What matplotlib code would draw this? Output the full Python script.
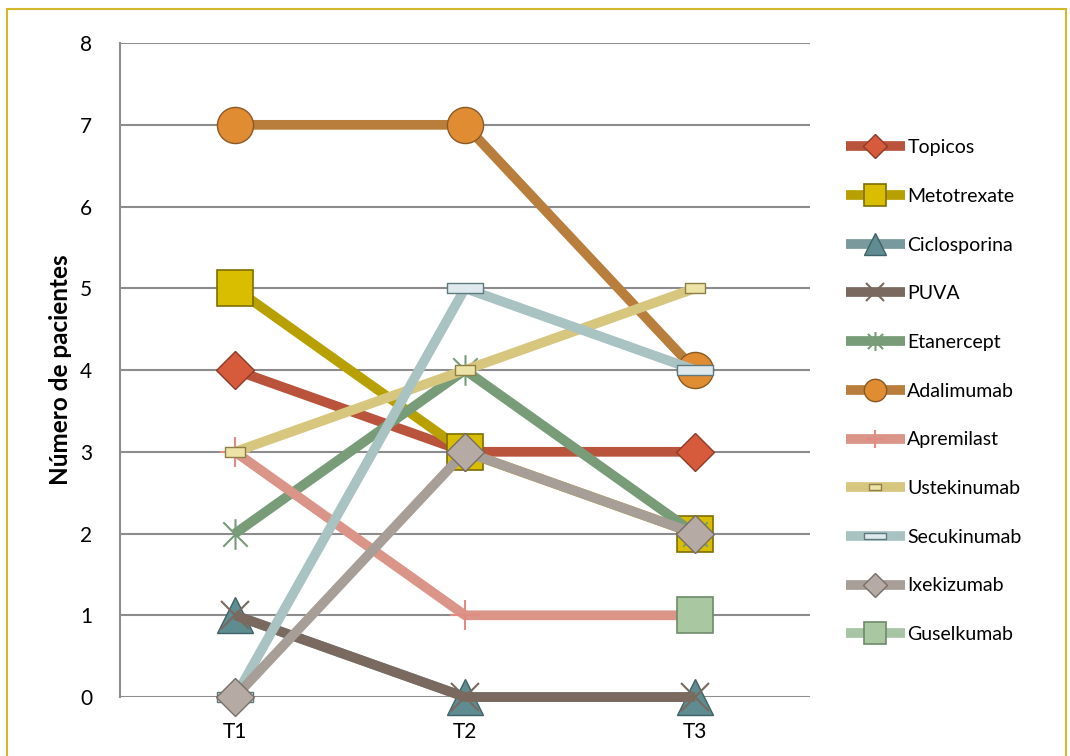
import numpy as np
import matplotlib
matplotlib.use('Agg')
import matplotlib.pyplot as plt
from matplotlib.path import Path
from matplotlib.patches import Rectangle

plt.rcParams['font.family'] = ['Lato', 'DejaVu Sans']

# Data
periods = ['T1', 'T2', 'T3']
topicos = [4, 3, 3]
metotrexate = [5, 3, 2]
ciclosporina = [1, 0, 0]
puva = [1, 0, 0]
etanercept = [2, 4, 2]
adalimumab = [7, 7, 4]
apremilast = [3, 1, 1]
ustekinumab = [3, 4, 5]
secukinumab = [0, 5, 4]
ixekizumab = [0, 3, 2]
guselkumab = [np.nan, np.nan, 1]

# custom marker shapes
star = Path([(0, -1), (0, 1), (-0.8, -0.8), (0.8, 0.8), (-0.8, 0.8), (0.8, -0.8)],
            [Path.MOVETO, Path.LINETO] * 3)
rect_wide = Path([(-1, -0.45), (1, -0.45), (1, 0.45), (-1, 0.45), (-1, -0.45)], closed=True)
rect_flat = Path([(-1, -0.3), (1, -0.3), (1, 0.3), (-1, 0.3), (-1, -0.3)], closed=True)

series = [
    ('Topicos', topicos, '#B9533C', 'D', 19, '#D65A3C', '#8E3A26', 1),
    ('Metotrexate', metotrexate, '#B8A000', 's', 26, '#D9BE00', '#7E6E00', 1.2),
    ('Ciclosporina', ciclosporina, '#789A9C', '^', 26, '#5E8C91', '#3F6266', 1),
    ('PUVA', puva, '#7A695E', 'x', 20, '#7A695E', '#7A695E', 1.5),
    ('Etanercept', etanercept, '#789C78', star, 22, '#789C78', '#789C78', 1.5),
    ('Adalimumab', adalimumab, '#B97D3C', 'o', 26, '#E08C32', '#8A5A26', 1),
    ('Apremilast', apremilast, '#DB9488', '+', 22, '#E08C84', '#E08C84', 1.5),
    ('Ustekinumab', ustekinumab, '#D7C67E', rect_wide, 15, '#EEE3A6', '#8C7F48', 1),
    ('Secukinumab', secukinumab, '#A9C3C3', rect_flat, 26, '#DDE9EC', '#5E7A7E', 1),
    ('Ixekizumab', ixekizumab, '#A89E98', 'D', 19, '#B5ABA4', '#786E68', 1),
    ('Guselkumab', guselkumab, '#A7C4A4', 's', 26, '#A9C8A2', '#6E8A6A', 1.2),
]

fig = plt.figure(figsize=(10.7, 7.56), dpi=100)
ax = fig.add_axes([0.1121, 0.078, 0.645, 0.865])

x = np.arange(len(periods))
for i, (name, vals, lc, mk, ms, mfc, mec, mew) in enumerate(series):
    ax.plot(x, vals, color=lc, lw=7, marker=mk, markersize=ms,
            markerfacecolor=mfc, markeredgecolor=mec, markeredgewidth=mew,
            label=name, zorder=3 + i, solid_capstyle='butt', clip_on=False)

ax.set_xlim(-0.5, 2.5)
ax.set_ylim(0, 8)
ax.set_yticks(range(9))
ax.set_xticks(x)
ax.set_xticklabels(periods)
ax.tick_params(axis='both', length=0, labelsize=15, colors='black')
ax.tick_params(axis='y', pad=20)
ax.tick_params(axis='x', pad=18)
ax.yaxis.grid(True, color='#8C8C8C', lw=1.5)
ax.set_axisbelow(True)
for side in ['top', 'right', 'bottom']:
    ax.spines[side].set_visible(False)
ax.spines['left'].set_color('#8C8C8C')
ax.spines['left'].set_linewidth(1.5)
ax.set_ylabel('Número de pacientes', fontsize=17.5, fontweight='bold', labelpad=6)

ax.legend(loc='upper left', bbox_to_anchor=(1.041, 0.865), frameon=False,
          fontsize=14, markerscale=0.62, handlelength=3.0, handletextpad=0.15,
          labelspacing=1.63, borderaxespad=0)

# outer frame
fig.patches.append(Rectangle((7 / 1070, -0.05), 1059 / 1070, 1 - 9 / 756 + 0.05,
                             transform=fig.transFigure, fill=False,
                             edgecolor='#D4B82A', lw=1.5, clip_on=False))

fig.savefig('out.png', dpi=100)
